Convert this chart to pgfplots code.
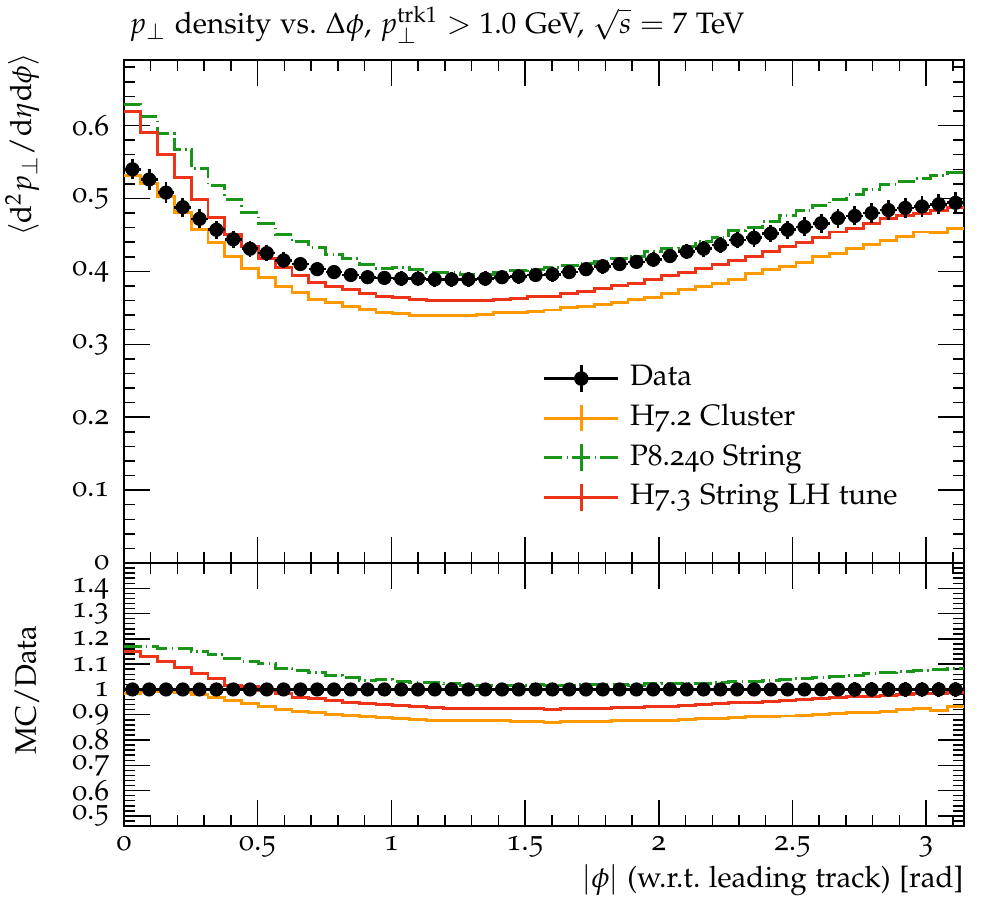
\documentclass[border=0pt]{standalone}
\usepackage[T1]{fontenc}
\usepackage[osf]{mathpazo}
\usepackage{pgfplots}
\usepackage{pgfplotstable}
\pgfplotsset{compat=1.18}

\definecolor{cH72}{RGB}{255,153,0}
\definecolor{cP8}{RGB}{25,150,25}
\definecolor{cH73}{RGB}{238,52,24}

% bin low edge, bin centre, data, error, MC (H7.2, P8.240, H7.3), then ratios to data
\pgfplotstableread{
lo mid D De H72 P8 H73 RD RDe R72 RP8 R73
0.0000 0.0314 0.540 0.014 0.531 0.629 0.619 1 0.026 0.983 1.171 1.149
0.0628 0.0942 0.526 0.014 0.521 0.612 0.591 1 0.026 0.992 1.169 1.129
0.1257 0.1571 0.508 0.014 0.503 0.589 0.560 1 0.026 0.993 1.162 1.109
0.1885 0.2199 0.488 0.013 0.481 0.567 0.529 1 0.026 0.987 1.163 1.088
0.2513 0.2827 0.472 0.013 0.458 0.541 0.499 1 0.026 0.979 1.149 1.062
0.3142 0.3456 0.457 0.012 0.439 0.518 0.474 1 0.025 0.970 1.137 1.042
0.3770 0.4084 0.444 0.012 0.420 0.499 0.451 1 0.025 0.957 1.121 1.016
0.4398 0.4712 0.431 0.011 0.404 0.481 0.434 1 0.025 0.945 1.111 1.011
0.5027 0.5341 0.425 0.011 0.392 0.465 0.417 1 0.025 0.934 1.103 0.996
0.5655 0.5969 0.415 0.011 0.379 0.450 0.405 1 0.025 0.921 1.084 0.983
0.6283 0.6597 0.410 0.010 0.371 0.441 0.394 1 0.025 0.914 1.076 0.970
0.6912 0.7226 0.403 0.010 0.362 0.433 0.385 1 0.025 0.908 1.066 0.963
0.7540 0.7854 0.399 0.010 0.357 0.423 0.379 1 0.025 0.901 1.057 0.957
0.8168 0.8482 0.395 0.010 0.352 0.417 0.375 1 0.025 0.897 1.049 0.950
0.8796 0.9111 0.392 0.010 0.348 0.410 0.370 1 0.025 0.892 1.037 0.945
0.9425 0.9739 0.391 0.010 0.344 0.404 0.366 1 0.025 0.888 1.040 0.941
1.0053 1.0367 0.390 0.010 0.342 0.405 0.364 1 0.025 0.885 1.033 0.937
1.0681 1.0996 0.390 0.010 0.340 0.402 0.362 1 0.025 0.881 1.029 0.932
1.1310 1.1624 0.389 0.010 0.340 0.399 0.360 1 0.025 0.879 1.026 0.928
1.1938 1.2252 0.389 0.010 0.340 0.399 0.360 1 0.025 0.879 1.022 0.926
1.2566 1.2881 0.389 0.010 0.340 0.396 0.360 1 0.025 0.879 1.017 0.925
1.3195 1.3509 0.390 0.010 0.341 0.396 0.360 1 0.025 0.879 1.016 0.925
1.3823 1.4137 0.392 0.010 0.343 0.399 0.362 1 0.025 0.876 1.016 0.925
1.4451 1.4765 0.393 0.010 0.343 0.401 0.363 1 0.025 0.875 1.017 0.926
1.5080 1.5394 0.395 0.010 0.345 0.403 0.365 1 0.025 0.874 1.020 0.925
1.5708 1.6022 0.396 0.010 0.347 0.405 0.366 1 0.025 0.871 1.017 0.921
1.6336 1.6650 0.399 0.010 0.350 0.408 0.370 1 0.025 0.872 1.017 0.924
1.6965 1.7279 0.403 0.010 0.352 0.411 0.373 1 0.025 0.875 1.020 0.925
1.7593 1.7907 0.407 0.010 0.355 0.414 0.377 1 0.025 0.875 1.018 0.926
1.8221 1.8535 0.410 0.010 0.357 0.418 0.380 1 0.025 0.877 1.018 0.928
1.8850 1.9164 0.413 0.010 0.361 0.420 0.384 1 0.025 0.879 1.017 0.930
1.9478 1.9792 0.416 0.010 0.364 0.427 0.389 1 0.025 0.876 1.022 0.932
2.0106 2.0420 0.421 0.010 0.369 0.432 0.394 1 0.025 0.879 1.024 0.934
2.0735 2.1049 0.427 0.010 0.375 0.434 0.399 1 0.025 0.881 1.022 0.937
2.1363 2.1677 0.431 0.011 0.379 0.441 0.404 1 0.025 0.884 1.024 0.941
2.1991 2.2305 0.436 0.011 0.384 0.447 0.410 1 0.025 0.885 1.026 0.945
2.2619 2.2934 0.443 0.011 0.389 0.456 0.415 1 0.026 0.888 1.033 0.947
2.3248 2.3562 0.446 0.012 0.397 0.460 0.421 1 0.026 0.892 1.033 0.950
2.3876 2.4190 0.452 0.012 0.402 0.469 0.427 1 0.026 0.892 1.036 0.954
2.4504 2.4819 0.457 0.012 0.407 0.476 0.434 1 0.026 0.895 1.040 0.958
2.5133 2.5447 0.461 0.013 0.412 0.483 0.440 1 0.027 0.898 1.043 0.960
2.5761 2.6075 0.466 0.013 0.420 0.490 0.447 1 0.027 0.901 1.046 0.963
2.6389 2.6704 0.473 0.013 0.425 0.498 0.454 1 0.027 0.904 1.050 0.967
2.7018 2.7332 0.476 0.013 0.432 0.505 0.459 1 0.028 0.908 1.055 0.971
2.7646 2.7960 0.480 0.014 0.437 0.512 0.465 1 0.028 0.910 1.062 0.974
2.8274 2.8588 0.484 0.014 0.442 0.519 0.472 1 0.028 0.914 1.066 0.976
2.8903 2.9217 0.487 0.014 0.448 0.523 0.476 1 0.028 0.921 1.072 0.980
2.9531 2.9845 0.489 0.014 0.454 0.528 0.479 1 0.028 0.924 1.076 0.983
3.0159 3.0473 0.492 0.014 0.453 0.531 0.483 1 0.028 0.918 1.079 0.984
3.0788 3.1102 0.494 0.015 0.459 0.535 0.487 1 0.030 0.932 1.084 0.989
3.1416 nan nan 0 0.459 0.535 0.487 nan 0 0.932 1.084 0.989
}\tab

\pgfplotsset{
  rivet/.style={
    scale only axis, width=284.5pt, xmin=0, xmax=3.1416,
    tick align=inside, major tick length=8.7pt, minor tick length=3.6pt,
    every tick/.style={black, line width=0.5pt},
    axis line style={line width=0.6pt},
    xtick={0,0.5,1,1.5,2,2.5,3},
    minor xtick={0.1,0.2,...,3.1},
    /pgf/number format/assume math mode=true,
    tick label style={font=\normalsize},
    yticklabel style={inner sep=0.8pt, xshift=-4pt},
  },
  p8dash/.style={dash pattern=on 6pt off 1.5pt on 0.5pt off 1.5pt},
  mc/.style={line width=1pt, const plot, forget plot},
  dat/.style={black, only marks, mark=*, mark size=2.2pt, forget plot,
    error bars/.cd, y dir=both, y explicit, x dir=both, x fixed=0.0314,
    error mark=none, error bar style={line width=0.9pt, black}},
  mcleg/.style={legend image code/.code={
    \draw[##1] (0pt,0pt) -- (25pt,0pt);
    \draw[##1,solid] (12.5pt,-4.5pt) -- (12.5pt,4.5pt);}},
}

\begin{document}
\begin{tikzpicture}
\path[use as bounding box] (-42pt,-114.14pt) rectangle (295.34pt,190.69pt);

\begin{axis}[rivet,
  at={(0pt,0pt)}, anchor=south west, height=170.4pt,
  ymin=0, ymax=0.69,
  ytick={0,0.1,0.2,0.3,0.4,0.5,0.6},
  minor ytick={0.02,0.04,...,0.69},
  xticklabels={},
  ylabel={$\langle \mathrm{d}^2p_\perp/\mathrm{d}\eta\mathrm{d}\phi\rangle$},
  ylabel style={at={(axis description cs:-0.1,1.015)}, anchor=south east, inner sep=0pt},
  title={$p_\perp$ density vs.\ $\Delta\phi$, $p_\perp^\mathrm{trk1} > 1.0$~GeV, $\sqrt{s} = 7$~TeV},
  title style={at={(axis description cs:0,1)}, anchor=base west, yshift=3pt, xshift=1.5pt, inner sep=0pt},
  legend cell align=left,
  legend style={draw=none, fill=none, at={(0.498,0.403)}, anchor=north west,
    inner sep=0pt, row sep=1.4pt, font=\normalsize,
    nodes={inner sep=1pt, text height=7.5pt, text depth=2.5pt},
    /tikz/every odd column/.append style={column sep=2.5pt}},
]
\addlegendimage{black, line width=0.9pt, legend image code/.code={
    \draw[black, line width=0.9pt] (0pt,0pt) -- (25pt,0pt);
    \draw[black, line width=0.9pt] (12.5pt,-4.5pt) -- (12.5pt,4.5pt);
    \fill[black] (12.5pt,0pt) circle (2pt);}}
\addlegendentry{Data}
\addlegendimage{cH72, line width=1pt, mcleg}
\addlegendentry{H7.2 Cluster}
\addlegendimage{cP8, line width=1pt, p8dash, mcleg}
\addlegendentry{P8.240 String}
\addlegendimage{cH73, line width=1pt, mcleg}
\addlegendentry{H7.3 String LH tune}

\addplot[mc, cH72] table[x=lo, y=H72] {\tab};
\addplot[mc, cP8, p8dash] table[x=lo, y=P8] {\tab};
\addplot[mc, cH73] table[x=lo, y=H73] {\tab};
\addplot[dat] table[x=mid, y=D, y error=De] {\tab};
\end{axis}

\begin{axis}[rivet,
  at={(0pt,0pt)}, anchor=north west, height=89.08pt,
  ymin=0.46, ymax=1.5,
  ytick={0.5,0.6,0.7,0.8,0.9,1,1.1,1.2,1.3,1.4,1.5},
  yticklabels={0.5,0.6,0.7,0.8,0.9,1,1.1,1.2,1.3,1.4,},
  minor ytick={0.48,0.50,...,1.49},
  xlabel={$|\phi|$ (w.r.t.\ leading track) [rad]},
  xlabel style={at={(axis description cs:1,-0.145)}, anchor=north east, inner sep=0pt},
  ylabel={MC/Data},
  ylabel style={at={(axis description cs:-0.1,0.517)}, anchor=south, inner sep=0pt},
]
\addplot[mc, cH72] table[x=lo, y=R72] {\tab};
\addplot[mc, cP8, p8dash] table[x=lo, y=RP8] {\tab};
\addplot[mc, cH73] table[x=lo, y=R73] {\tab};
\addplot[dat] table[x=mid, y=RD, y error=RDe] {\tab};
\end{axis}
\end{tikzpicture}
\end{document}
